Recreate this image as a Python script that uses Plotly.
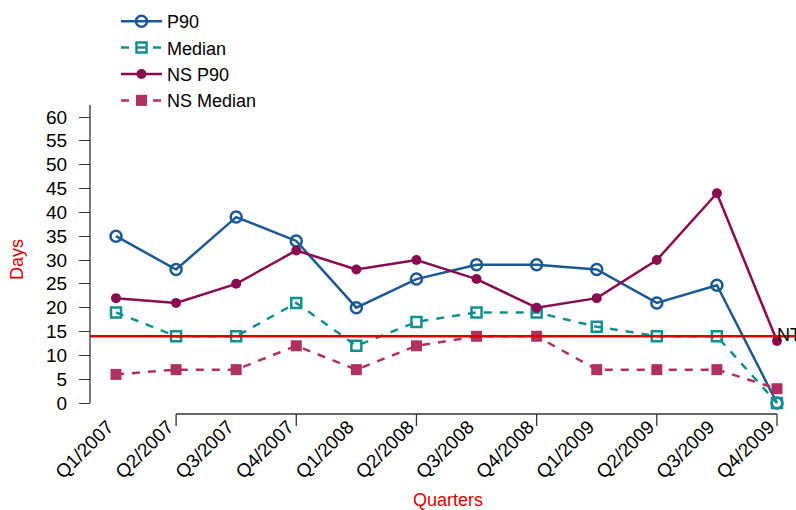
import plotly.graph_objects as go

quarters = ["Q1/2007", "Q2/2007", "Q3/2007", "Q4/2007", "Q1/2008", "Q2/2008",
            "Q3/2008", "Q4/2008", "Q1/2009", "Q2/2009", "Q3/2009", "Q4/2009"]
p90 = [35, 28, 39, 34, 20, 26, 29, 29, 28, 21, 24.7, 0]
median = [19, 14, 14, 21, 12, 17, 19, 19, 16, 14, 14, 0]
ns_p90 = [22, 21, 25, 32, 28, 30, 26, 20, 22, 30, 44, 13]
ns_median = [6, 7, 7, 12, 7, 12, 14, 14, 7, 7, 7, 3]
target = 14
y_ticks = list(range(0, 61, 5))
x_tick_marks = [1, 3, 5, 7, 9, 11]

W, H = 796, 510
x0_px, dx_px = 116.0, 60.09
y0_px, dy_px = 403.0, 286.0 / 60.0

xr = [(0 - x0_px) / dx_px, (W - x0_px) / dx_px]
yr = [-(H - y0_px) / dy_px, y0_px / dy_px]

idx = list(range(len(quarters)))
font = "Liberation Sans, Arial, Helvetica, sans-serif"
axc = "#333333"

fig = go.Figure()
fig.add_trace(go.Scatter(x=idx, y=p90, name="P90", mode="lines+markers",
                         line=dict(color="#1b5896", width=2.5),
                         marker=dict(symbol="circle-open", size=11, color="#1b5896", line=dict(width=2.5))))
fig.add_trace(go.Scatter(x=idx, y=median, name="Median", mode="lines+markers",
                         line=dict(color="#12908f", width=2.5, dash="8px,8px"),
                         marker=dict(symbol="square-open", size=10, color="#12908f", line=dict(width=2.5))))
fig.add_trace(go.Scatter(x=idx, y=ns_p90, name="NS P90", mode="lines+markers",
                         line=dict(color="#8a0c50", width=2.5),
                         marker=dict(symbol="circle", size=10, color="#8a0c50")))
fig.add_trace(go.Scatter(x=idx, y=ns_median, name="NS Median", mode="lines+markers",
                         line=dict(color="#b03062", width=2.5, dash="8px,8px"),
                         marker=dict(symbol="square", size=11, color="#b03062")))
x_axis_px = 90
fig.add_trace(go.Scatter(x=[(x_axis_px - x0_px) / dx_px, xr[1]], y=[target, target], mode="lines",
                         line=dict(color="#dd0000", width=2.5), showlegend=False, hoverinfo="skip"))
fig.add_trace(go.Scatter(x=[idx[-1]], y=[target], mode="text", text=["NT"], textposition="middle right",
                         textfont=dict(size=18, color="black", family=font), showlegend=False,
                         hoverinfo="skip", cliponaxis=True))

xpos = (H - 414) / H
fig.update_layout(
    width=W, height=H, margin=dict(l=0, r=0, t=0, b=0, autoexpand=False),
    paper_bgcolor="white", plot_bgcolor="white",
    font=dict(family=font, size=18, color="black"),
    xaxis=dict(range=xr, domain=[0, 1], anchor="free", position=xpos, tickmode="array",
               tickvals=idx, ticktext=quarters, tickangle=-45, ticks="", showgrid=False,
               zeroline=False, showline=False, tickfont=dict(size=19), automargin=False,
               ticklabelshift=-8, ticklabelstandoff=-3),
    yaxis=dict(range=yr, domain=[0, 1], anchor="free", position=x_axis_px / W,
               tickmode="array", tickvals=y_ticks, ticks="outside", ticklen=11, tickwidth=1.3,
               tickcolor=axc, showgrid=False, zeroline=False, showline=False,
               ticklabelstandoff=8, tickfont=dict(size=19), automargin=False),
    legend=dict(x=116 / W, y=1 - 3 / H, xanchor="left", yanchor="top", bgcolor="rgba(0,0,0,0)",
                font=dict(size=18), tracegroupgap=0, itemwidth=41),
    showlegend=True,
)

fig.add_shape(type="line", xref="paper", yref="y", x0=x_axis_px / W, x1=x_axis_px / W,
              y0=0, y1=62.5, line=dict(color=axc, width=1.3))
fig.add_shape(type="line", xref="x", yref="paper", x0=x_tick_marks[0], x1=x_tick_marks[-1],
              y0=xpos, y1=xpos, line=dict(color=axc, width=1.3))
for t in x_tick_marks:
    fig.add_shape(type="line", xref="x", yref="paper", x0=t, x1=t,
                  y0=xpos, y1=xpos - 12 / H, line=dict(color=axc, width=1.3))

fig.add_annotation(text="Quarters", xref="paper", yref="paper", x=448 / W, y=(H - 500) / H,
                   xanchor="center", yanchor="middle",
                   showarrow=False, font=dict(size=18, color="#dd0000"))
fig.add_annotation(text="Days", xref="paper", yref="paper", x=17 / W, y=(H - 260) / H,
                   xanchor="center", yanchor="middle",
                   showarrow=False, textangle=-90, font=dict(size=18, color="#dd0000"))

fig.write_html("out.html", config={"displayModeBar": False},
               post_script="document.body.style.margin='0';document.body.style.overflow='hidden';")
